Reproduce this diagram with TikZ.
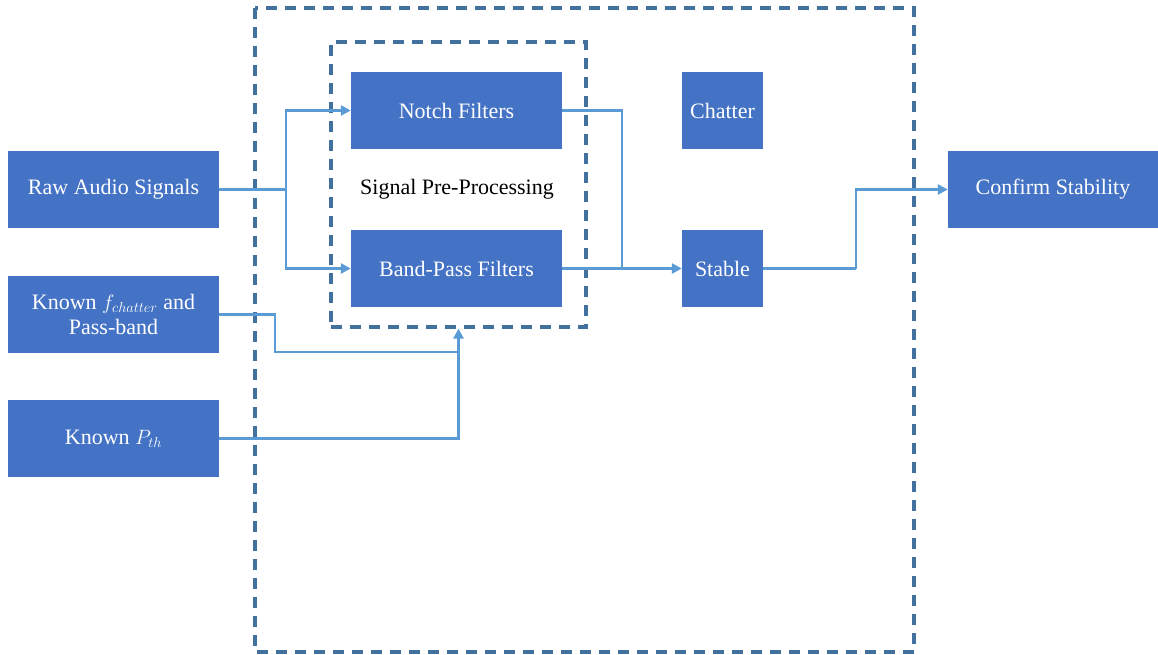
\documentclass[tikz,border=0pt]{standalone}
\usepackage{fontspec}
\setmainfont{Liberation Serif}
\usetikzlibrary{arrows.meta}
\definecolor{boxblue}{HTML}{4472C4}
\definecolor{linkblue}{HTML}{5B9BD5}
\definecolor{frameblue}{HTML}{41719C}
\tikzset{
  x=1pt, y=-1pt,
  block/.style={draw=none, fill=boxblue, text=white, inner sep=0pt, font=\fontsize{22}{25}\selectfont, align=center},
  link/.style={draw=linkblue, line width=2.8pt},
  flow/.style={link, -{Triangle[length=10pt,width=10pt]}},
  frame/.style={draw=frameblue, line width=3.2pt, dash pattern=on 11pt off 8pt},
}
\begin{document}
\begin{tikzpicture}
\useasboundingbox (0,0) rectangle (1158,655);

% dashed groups
\draw[frame] (255,8) rectangle (914,652);
\node[frame, minimum width=255pt, minimum height=285pt, inner sep=0pt] (pre) at (458.5,184.5) {};

% input blocks
\node[block, minimum width=211pt, minimum height=77pt] (raw) at (113.5,189.5) {Raw Audio Signals};
\node[block, minimum width=211pt, minimum height=77pt] (fch) at (113.5,314.5) {Known $f_{chatter}$ and\\Pass-band};
\node[block, minimum width=211pt, minimum height=77pt] (pth) at (113.5,438.5) {Known $P_{th}$};

% filters
\node[block, minimum width=211pt, minimum height=77pt] (notch) at (456.5,110.5) {Notch Filters};
\node[block, minimum width=211pt, minimum height=77pt] (band) at (456.5,268.5) {Band-Pass Filters};
\node[font=\fontsize{22}{25}\selectfont] (label) at (457,189) {Signal Pre-Processing};

% decisions
\node[block, minimum width=81pt, minimum height=77pt] (chatter) at (722.5,110.5) {Chatter};
\node[block, minimum width=81pt, minimum height=77pt] (stable) at (722.5,268.5) {Stable};

% output
\node[block, minimum width=210pt, minimum height=77pt] (confirm) at (1053,189.5) {Confirm Stability};

% connectors
\coordinate (split) at (286,189.5);
\draw[link] (raw.east) -- (split);
\draw[flow] (split) |- (notch.west);
\draw[flow] (split) |- (band.west);

\coordinate (merge) at (622,268.5);
\draw[link] (notch.east) -| (merge);
\draw[flow] (band.east) -- (stable.west);

\coordinate (fa) at (275,314.5);
\coordinate (fb) at (275,352);
\draw[link] (fch.east) -- (fa) -- (fb) -- (pre.south |- fb);
\draw[flow] (pth.east) -| (pre.south);

\coordinate (up) at (856,268.5);
\draw[link] (stable.east) -- (up);
\draw[flow] (up) |- (confirm.west);
\end{tikzpicture}
\end{document}
